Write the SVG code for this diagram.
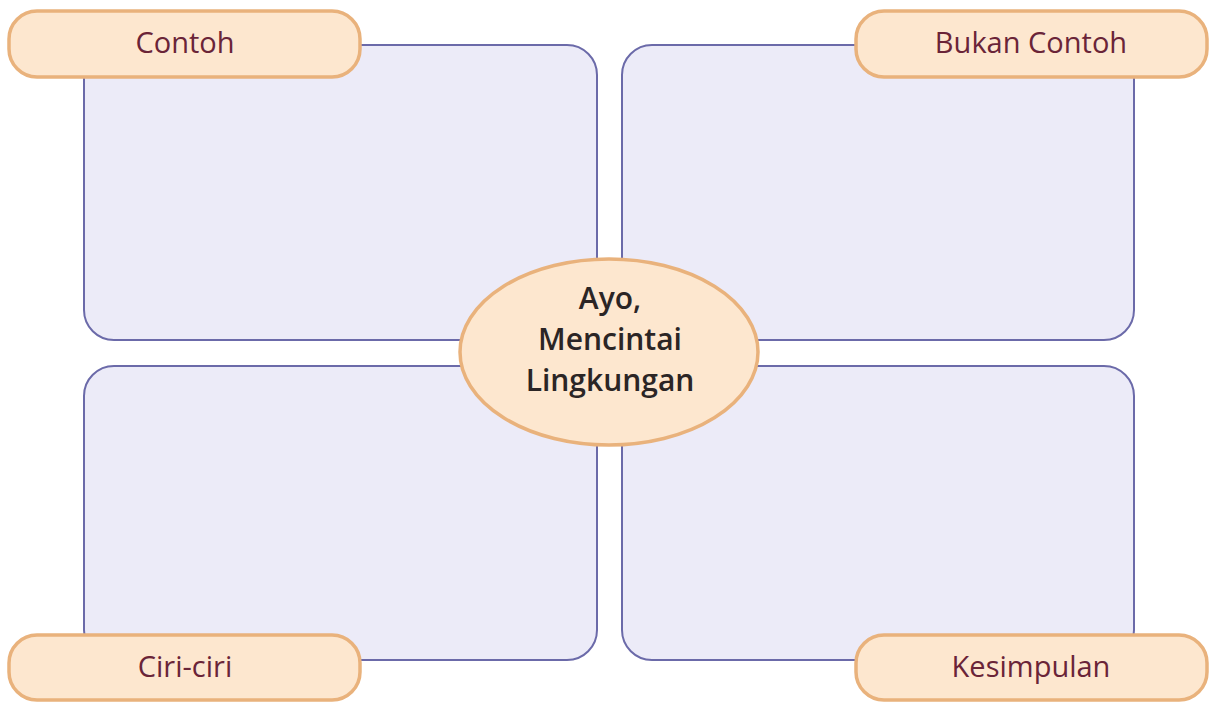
<svg xmlns="http://www.w3.org/2000/svg" width="1214" height="702" viewBox="0 0 1214 702">
<style>
.box{fill:#ecebf8;stroke:#6b6aa9;stroke-width:2}
.pill{fill:#fde7cf;stroke:#e9b27c;stroke-width:3.5}
.lbl{font-family:"Open Sans","Noto Sans",sans-serif;font-size:29px;font-weight:500;fill:#6a2438;text-anchor:middle}
.ctr{font-family:"Open Sans","Noto Sans",sans-serif;font-size:30px;font-weight:600;fill:#2b2525;text-anchor:middle}
</style>
<rect width="1214" height="702" fill="#ffffff"/>
<g id="connectors"></g>
<g id="box-contoh"><rect class="box" x="84" y="45" width="513" height="295" rx="30"/></g>
<g id="box-bukan"><rect class="box" x="622" y="45" width="512" height="295" rx="30"/></g>
<g id="box-ciri"><rect class="box" x="84" y="366" width="513" height="294" rx="30"/></g>
<g id="box-kesimpulan"><rect class="box" x="622" y="366" width="512" height="294" rx="30"/></g>
<g id="label-contoh"><rect class="pill" x="9" y="11" width="351" height="66" rx="28"/><text class="lbl" x="185" y="53">Contoh</text></g>
<g id="label-bukan"><rect class="pill" x="856" y="11" width="351" height="66" rx="28"/><text class="lbl" x="1031" y="53">Bukan Contoh</text></g>
<g id="label-ciri"><rect class="pill" x="9" y="635" width="351" height="65" rx="28"/><text class="lbl" x="185" y="677">Ciri-ciri</text></g>
<g id="label-kesimpulan"><rect class="pill" x="856" y="635" width="351" height="65" rx="28"/><text class="lbl" x="1031" y="677">Kesimpulan</text></g>
<g id="center"><ellipse cx="609" cy="352" rx="149" ry="93" fill="#fde7cf" stroke="#e9b27c" stroke-width="3.5"/>
<text class="ctr" x="610" y="309">Ayo,</text>
<text class="ctr" x="610" y="350">Mencintai</text>
<text class="ctr" x="610" y="391">Lingkungan</text></g>
</svg>
